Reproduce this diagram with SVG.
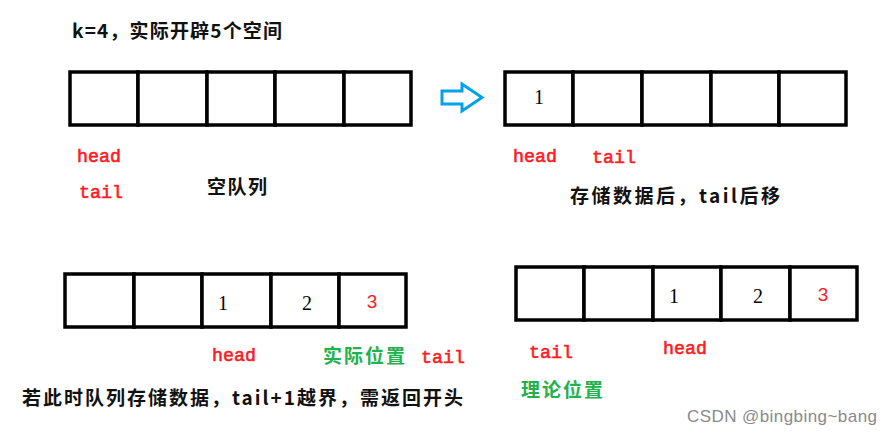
<svg xmlns="http://www.w3.org/2000/svg" width="893" height="435" viewBox="0 0 893 435">
<style>
.cell{fill:#fff;stroke:#000;stroke-width:3.5}
.cn{font-family:"Noto Sans CJK SC","Liberation Sans",sans-serif;font-size:19px;font-weight:bold;fill:#111}
.lbl{font-family:"Liberation Mono","DejaVu Sans Mono",monospace;font-size:18.3px;font-weight:normal;fill:#ff1a24;stroke:#ff1a24;stroke-width:0.6}
.num{font-family:"Liberation Serif",serif;font-size:20px;fill:#000;text-anchor:middle}
.rnum{font-family:"Liberation Sans",sans-serif;font-size:19px;fill:#ff1a24;text-anchor:middle}
.green{fill:#22b14c}
.wm{font-family:"Liberation Sans","DejaVu Sans",sans-serif;font-size:17px;fill:#8a8a8a}
</style>
<rect width="893" height="435" fill="#fff"/>
<text class="cn" x="72" y="38" textLength="210">k=4，实际开辟5个空间</text>

<g id="queue-empty">
<rect class="cell" x="70" y="72" width="68" height="53"/>
<rect class="cell" x="138" y="72" width="69" height="53"/>
<rect class="cell" x="207" y="72" width="68" height="53"/>
<rect class="cell" x="275" y="72" width="69" height="53"/>
<rect class="cell" x="344" y="72" width="67" height="53"/>
<text class="lbl" x="77" y="162">head</text>
<text class="lbl" x="79" y="198">tail</text>
<text class="cn" x="207" y="194" textLength="60">空队列</text>
</g>

<g id="connectors">
<polygon points="442,91 462,91 462,84 482,97.5 462,111 462,104 442,104" fill="#fff" stroke="#00a2e8" stroke-width="3" stroke-linejoin="miter"/>
</g>

<g id="queue-one">
<rect class="cell" x="505" y="72" width="68" height="53"/>
<rect class="cell" x="573" y="72" width="69" height="53"/>
<rect class="cell" x="642" y="72" width="69" height="53"/>
<rect class="cell" x="711" y="72" width="68" height="53"/>
<rect class="cell" x="779" y="72" width="67" height="53"/>
<text class="num" x="539" y="104">1</text>
<text class="lbl" x="513" y="162">head</text>
<text class="lbl" x="592" y="163">tail</text>
<text class="cn" x="570" y="203" textLength="210">存储数据后，tail后移</text>
</g>

<g id="queue-full-actual">
<rect class="cell" x="65" y="274" width="69" height="53"/>
<rect class="cell" x="134" y="274" width="68" height="53"/>
<rect class="cell" x="202" y="274" width="69" height="53"/>
<rect class="cell" x="271" y="274" width="68" height="53"/>
<rect class="cell" x="339" y="274" width="67" height="53"/>
<text class="num" x="223" y="310">1</text>
<text class="num" x="307" y="310">2</text>
<text class="rnum" x="372" y="308">3</text>
<text class="lbl" x="212" y="361">head</text>
<text class="cn green" x="323" y="363" textLength="82">实际位置</text>
<text class="lbl" x="421" y="363">tail</text>
<text class="cn" x="22" y="405" textLength="441">若此时队列存储数据，tail+1越界，需返回开头</text>
</g>

<g id="queue-full-theory">
<rect class="cell" x="516" y="267" width="68" height="53"/>
<rect class="cell" x="584" y="267" width="69" height="53"/>
<rect class="cell" x="653" y="267" width="68" height="53"/>
<rect class="cell" x="721" y="267" width="69" height="53"/>
<rect class="cell" x="790" y="267" width="67" height="53"/>
<text class="num" x="674" y="303">1</text>
<text class="num" x="758" y="303">2</text>
<text class="rnum" x="823" y="301">3</text>
<text class="lbl" x="529" y="358">tail</text>
<text class="lbl" x="663" y="354">head</text>
<text class="cn green" x="521" y="397" textLength="82">理论位置</text>
</g>

<text class="wm" x="687" y="422" textLength="190">CSDN @bingbing~bang</text>
</svg>
